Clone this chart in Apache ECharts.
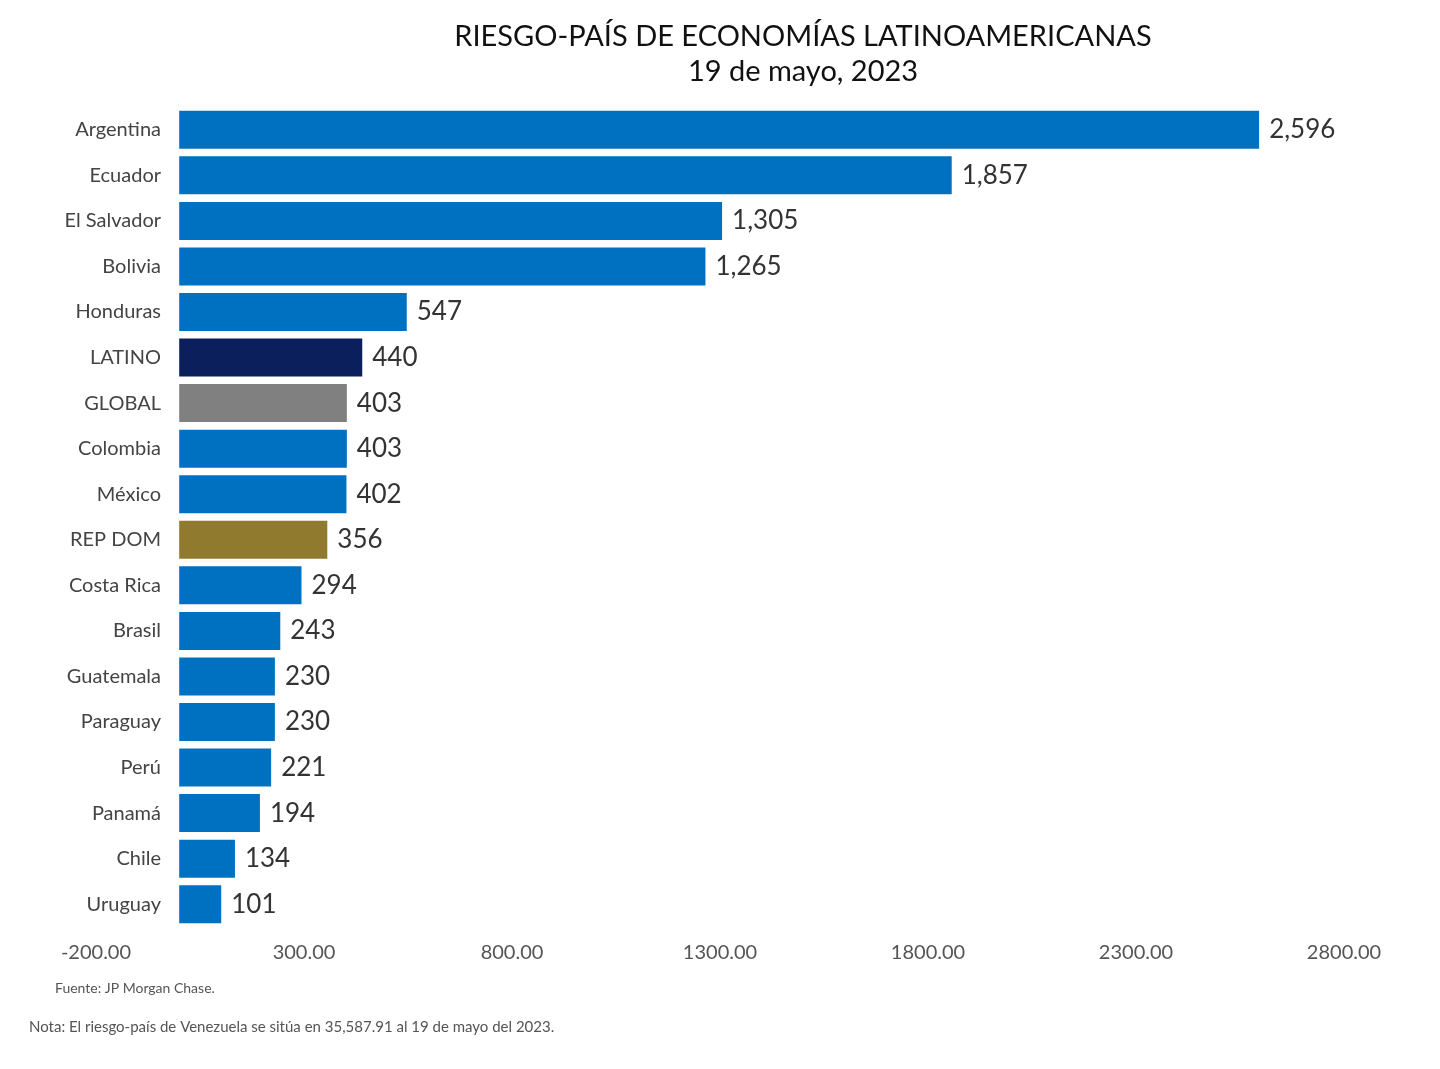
<!DOCTYPE html>
<html><head><meta charset="utf-8">
<script src="https://cdn.jsdelivr.net/npm/echarts@6/dist/echarts.min.js"></script>
<style>html,body{margin:0;background:#fff}#c{width:1440px;height:1069px}</style>
</head><body><div id="c"></div>
<script>
const countries = ['Argentina','Ecuador','El Salvador','Bolivia','Honduras','LATINO','GLOBAL','Colombia','México','REP DOM','Costa Rica','Brasil','Guatemala','Paraguay','Perú','Panamá','Chile','Uruguay'];
const spreads = [2596,1857,1305,1265,547,440,403,403,402,356,294,243,230,230,221,194,134,101];
const specialColors = { LATINO: '#0b1f5c', GLOBAL: '#808080', 'REP DOM': '#8f7a2e' };
const axisTicks = [-200, 2800, 500];

const chart = echarts.init(document.getElementById('c'));
const font = 'Lato';
chart.setOption({
  title: [{
    text: 'RIESGO-PAÍS DE ECONOMÍAS LATINOAMERICANAS\n19 de mayo, 2023',
    left: 798, top: 14, textAlign: 'center',
    textStyle: { fontFamily: font, fontSize: 29, fontWeight: 'normal', color: '#111', lineHeight: 35 }
  }, {
    text: 'Fuente: JP Morgan Chase.', left: 50, top: 976,
    textStyle: { fontFamily: font, fontSize: 14, fontWeight: 'normal', color: '#555' }
  }, {
    text: 'Nota: El riesgo-país de Venezuela se sitúa en 35,587.91 al 19 de mayo del 2023.', left: 24, top: 1015,
    textStyle: { fontFamily: font, fontSize: 15, fontWeight: 'normal', color: '#555' }
  }],
  grid: { left: 96, right: 96, top: 107, bottom: 142 },
  xAxis: {
    type: 'value', min: axisTicks[0], max: axisTicks[1], interval: axisTicks[2],
    splitLine: { show: false }, axisLine: { show: false }, axisTick: { show: false },
    axisLabel: { fontFamily: font, fontSize: 20, color: '#555', margin: 16, formatter: v => v.toFixed(2) }
  },
  yAxis: {
    type: 'category', data: countries, inverse: true, position: 'left',
    axisLine: { show: false }, axisTick: { show: false },
    axisLabel: { fontFamily: font, fontSize: 20, color: '#444', margin: -65, align: 'right' }
  },
  series: [{
    type: 'bar', barWidth: 38,
    data: spreads.map((v, i) => ({ value: v, itemStyle: { color: specialColors[countries[i]] || '#0070c0' } })),
    label: {
      show: true, position: 'right', distance: 10, fontFamily: font, fontSize: 26, color: '#333',
      formatter: p => p.value.toLocaleString('en-US')
    }
  }]
});
</script></body></html>
